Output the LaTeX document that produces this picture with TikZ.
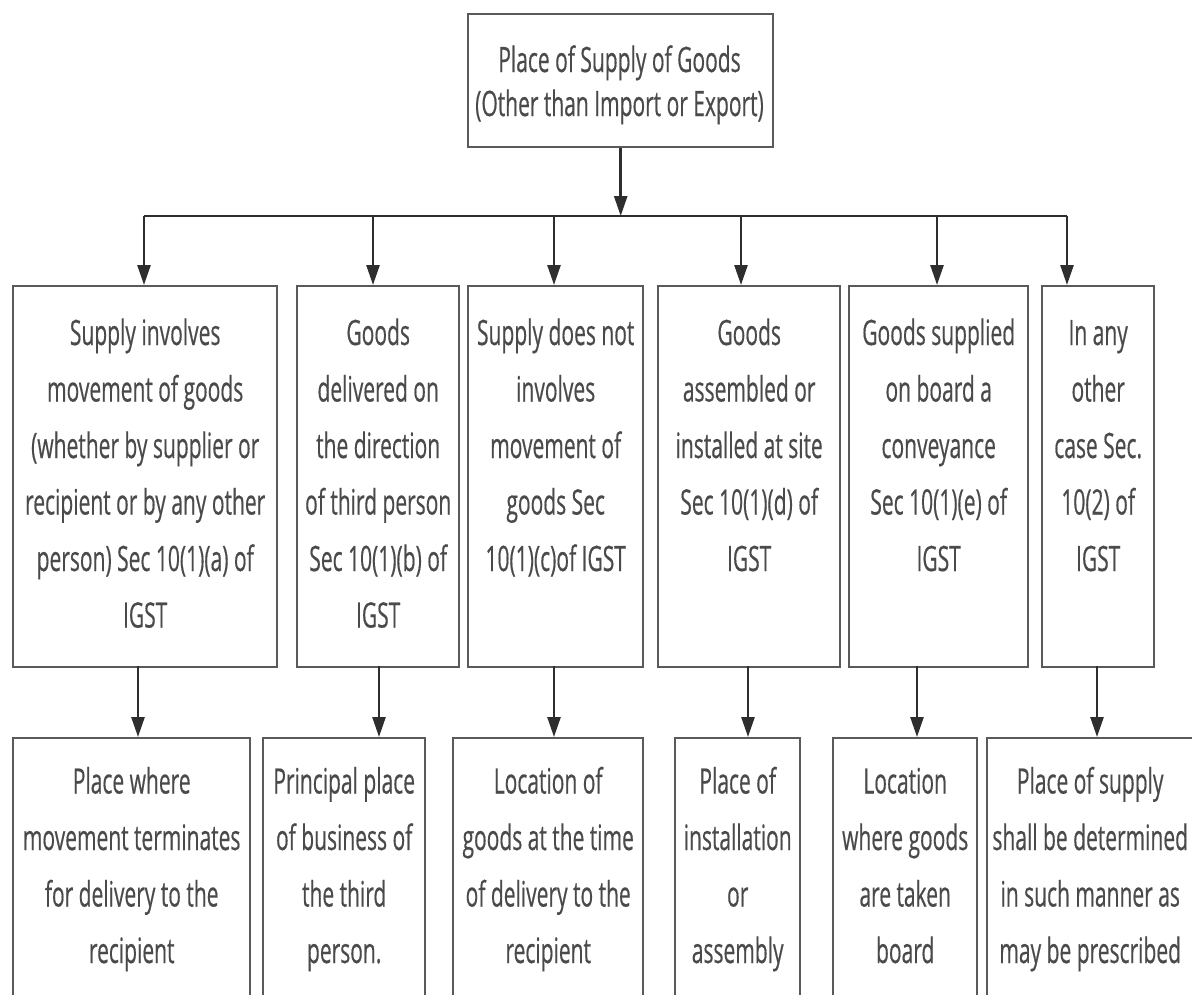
\documentclass[tikz,border=0pt]{standalone}
\usepackage{fontspec}
\setmainfont{Open Sans}[FakeStretch=0.6, FakeBold=0.4]
\usetikzlibrary{arrows.meta}
\definecolor{framegray}{HTML}{5A5A5A}
\definecolor{wiregray}{HTML}{2E2E2E}
\definecolor{inkgray}{HTML}{4A4A4A}
\begin{document}
\begin{tikzpicture}[x=1pt,y=-1pt,
  box/.style={draw=framegray, line width=2.4pt, fill=white, inner sep=0pt, anchor=north west},
  % anchor=base sits on the baseline of the last line
  txt/.style={text=inkgray, align=center, inner sep=0pt, anchor=base,
    font=\fontsize{35}{56.5}\selectfont},
  toptxt/.style={txt, font=\fontsize{35}{44}\selectfont},
  wire/.style={draw=wiregray, line width=2.6pt},
  arr/.style={wire, -{Triangle[length=20pt,width=13pt]}}]
\clip (0,0) rectangle (1192,994);
\fill[white] (0,0) rectangle (1192,994);

% title box
\node[box, minimum width=305pt, minimum height=133pt] (top) at (467,13) {};
\node[toptxt] (topt) at (619.5,116) {Place of Supply of Goods\\(Other than Import or Export)};

% rule cases
\node[box, minimum width=264pt, minimum height=381pt] (m1) at (12,285) {};
\node[box, minimum width=162pt, minimum height=381pt] (m2) at (296,285) {};
\node[box, minimum width=175pt, minimum height=381pt] (m3) at (467,285) {};
\node[box, minimum width=182pt, minimum height=381pt] (m4) at (657,285) {};
\node[box, minimum width=179pt, minimum height=381pt] (m5) at (848,285) {};
\node[box, minimum width=112pt, minimum height=381pt] (m6) at (1041,285) {};

\node[txt] (m1t) at (m1.north |- 0,627.5) {Supply involves\\movement of goods\\(whether by supplier or\\recipient or by any other\\person) Sec 10(1)(a) of\\IGST};
\node[txt] (m2t) at (m2.north |- 0,627.5) {Goods\\delivered on\\the direction\\of third person\\Sec 10(1)(b) of\\IGST};
\node[txt] (m3t) at (m3.north |- 0,571) {Supply does not\\involves\\movement of\\goods Sec\\10(1)(c)of IGST};
\node[txt] (m4t) at (m4.north |- 0,571) {Goods\\assembled or\\installed at site\\Sec 10(1)(d) of\\IGST};
\node[txt] (m5t) at (m5.north |- 0,571) {Goods supplied\\on board a\\conveyance\\Sec 10(1)(e) of\\IGST};
\node[txt] (m6t) at (m6.north |- 0,571) {In any\\other\\case Sec.\\10(2) of\\IGST};

% resulting place of supply
\node[box, minimum width=237pt, minimum height=300pt] (b1) at (12,737) {};
\node[box, minimum width=162pt, minimum height=300pt] (b2) at (262,737) {};
\node[box, minimum width=190pt, minimum height=300pt] (b3) at (452,737) {};
\node[box, minimum width=125pt, minimum height=300pt] (b4) at (674,737) {};
\node[box, minimum width=144pt, minimum height=300pt] (b5) at (832,737) {};
\node[box, minimum width=206pt, minimum height=300pt] (b6) at (986,737) {};

\node[txt] (b1t) at (b1.north |- 0,963) {Place where\\movement terminates\\for delivery to the\\recipient};
\node[txt] (b2t) at (b2.north |- 0,963) {Principal place\\of business of\\the third\\person.};
\node[txt] (b3t) at (b3.north |- 0,963) {Location of\\goods at the time\\of delivery to the\\recipient};
\node[txt] (b4t) at (b4.north |- 0,963) {Place of\\installation\\or\\assembly};
\node[txt] (b5t) at (b5.north |- 0,963) {Location\\where goods\\are taken\\board};
\node[txt] (b6t) at (b6.north |- 0,963) {Place of supply\\shall be determined\\in such manner as\\may be prescribed};

% distribution bus
\coordinate (busL) at (144,216);
\coordinate (busR) at (1067,216);
\coordinate (busM) at (top.south |- busL);
\draw[wire] (busL) -- (busR);
\draw[arr] (top.south) -- (busM);

\foreach \k/\x in {1/144, 2/373, 3/554, 4/741, 5/937, 6/1067} {
  \coordinate (d\k) at (\x,216);
  \draw[arr] (d\k) -- (d\k |- m\k.north);
}
\foreach \k/\x in {1/138, 2/379, 3/554, 4/748, 5/917, 6/1097} {
  \coordinate (s\k) at (\x,666);
  \draw[arr] (s\k) -- (s\k |- b\k.north);
}
\end{tikzpicture}
\end{document}
